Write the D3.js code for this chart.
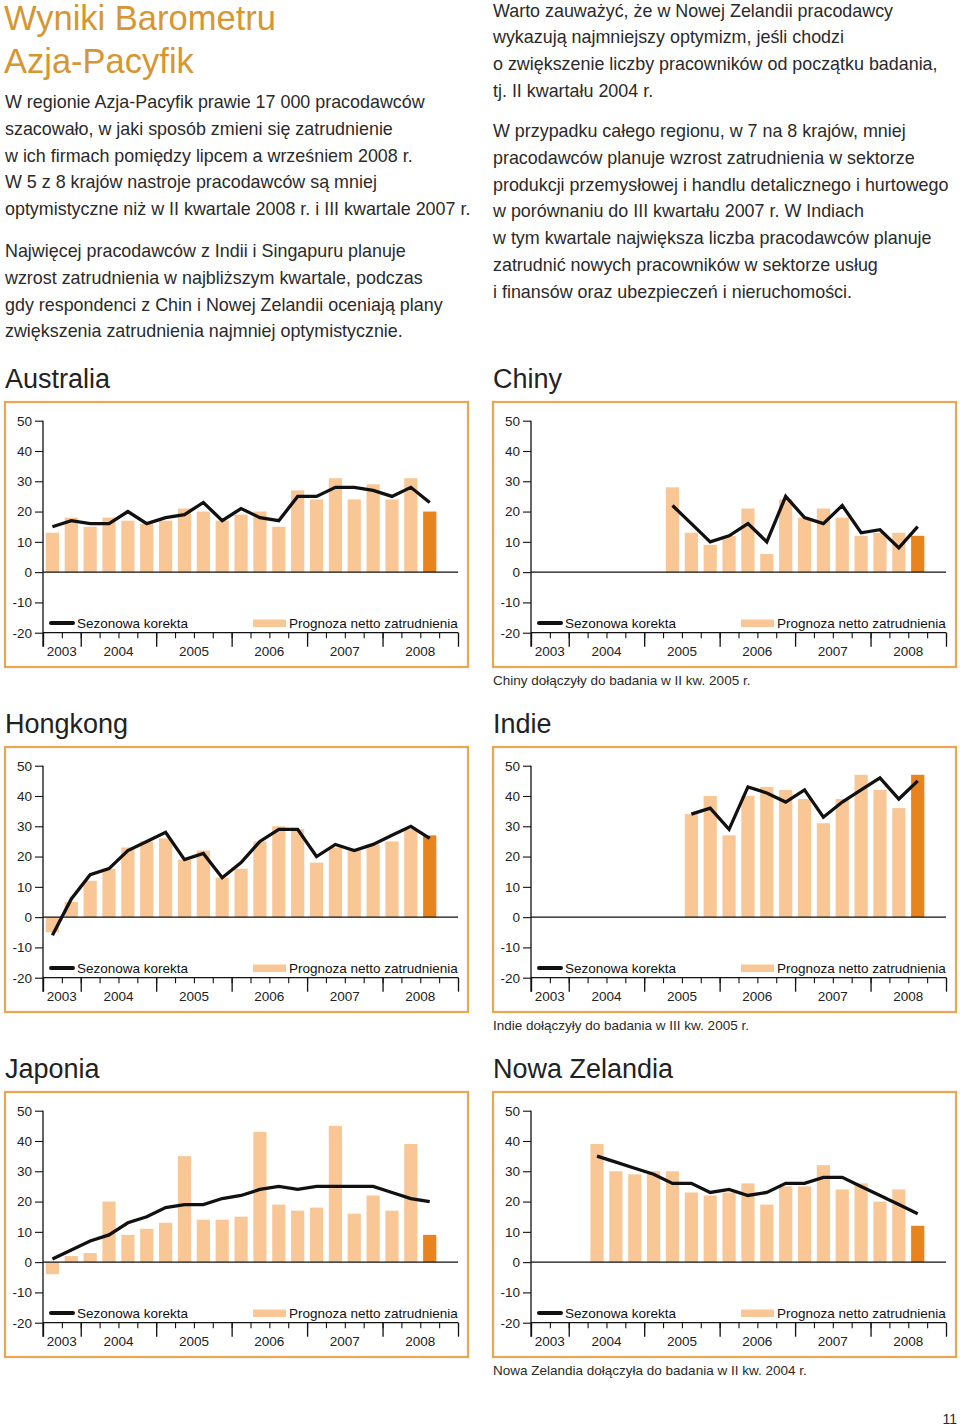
<!DOCTYPE html>
<html><head><meta charset="utf-8">
<script src="https://cdn.jsdelivr.net/npm/d3@7"></script>
<style>
body{margin:0;background:#fff;}
svg{display:block;}
</style></head><body>
<svg id="page" width="960" height="1428"></svg>
<script>
// ---------- DATA ----------
const quarters = ["2003 Q3","2003 Q4",
  "2004 Q1","2004 Q2","2004 Q3","2004 Q4",
  "2005 Q1","2005 Q2","2005 Q3","2005 Q4",
  "2006 Q1","2006 Q2","2006 Q3","2006 Q4",
  "2007 Q1","2007 Q2","2007 Q3","2007 Q4",
  "2008 Q1","2008 Q2","2008 Q3","2008 Q4"];
const years = ["2003","2004","2005","2006","2007","2008"];
const yearQuarterCounts = [2,4,4,4,4,4];
const yTicks = [50,40,30,20,10,0,-10,-20];
const legendLabels = ["Sezonowa korekta","Prognoza netto zatrudnienia"];

const australiaStart = "2003 Q3";
const australiaBars = [13,18,15,18,17,16,17,21,20,17,19,20,15,27,24,31,24,29,24,31,20];
const australiaLine = [15,17,16,16,20,16,18,19,23,17,21,18,17,25,25,28,28,27,25,28,23];

const chinyStart = "2005 Q2";
const chinyBars = [28,13,9,12,21,6,24,18,21,18,12,13,13,12];
const chinyLine = [22,16,10,12,16,10,25,18,16,22,13,14,8,15];

const hongkongStart = "2003 Q3";
const hongkongBars = [-5,5,12,16,23,25,26,19,22,13,16,25,30,29,18,23,22,24,25,29,27];
const hongkongLine = [-6,6,14,16,22,25,28,19,21,13,18,25,29,29,20,24,22,24,27,30,26];

const indieStart = "2005 Q3";
const indieBars = [34,40,27,40,43,42,39,31,39,47,42,36,47];
const indieLine = [34,36,29,43,41,38,42,33,38,42,46,39,45];

const japoniaStart = "2003 Q3";
const japoniaBars = [-4,2,3,20,9,11,13,35,14,14,15,43,19,17,18,45,16,22,17,39,9];
const japoniaLine = [1,4,7,9,13,15,18,19,19,21,22,24,25,24,25,25,25,25,23,21,20];

const nzStart = "2004 Q2";
const nzBars = [39,30,29,30,30,23,22,23,26,19,25,25,32,24,26,20,24,12];
const nzLine = [35,33,31,29,26,26,23,24,22,23,26,26,28,28,25,22,19,16];

const headingLines = ["Wyniki Barometru","Azja-Pacyfik"];
const leftPara1 = ["W regionie Azja-Pacyfik prawie 17 000 pracodawców",
  "szacowało, w jaki sposób zmieni się zatrudnienie",
  "w ich firmach pomiędzy lipcem a wrześniem 2008 r.",
  "W 5 z 8 krajów nastroje pracodawców są mniej",
  "optymistyczne niż w II kwartale 2008 r. i III kwartale 2007 r."];
const leftPara2 = ["Najwięcej pracodawców z Indii i Singapuru planuje",
  "wzrost zatrudnienia w najbliższym kwartale, podczas",
  "gdy respondenci z Chin i Nowej Zelandii oceniają plany",
  "zwiększenia zatrudnienia najmniej optymistycznie."];
const rightPara1 = ["Warto zauważyć, że w Nowej Zelandii pracodawcy",
  "wykazują najmniejszy optymizm, jeśli chodzi",
  "o zwiększenie liczby pracowników od początku badania,",
  "tj. II kwartału 2004 r."];
const rightPara2 = ["W przypadku całego regionu, w 7 na 8 krajów, mniej",
  "pracodawców planuje wzrost zatrudnienia w sektorze",
  "produkcji przemysłowej i handlu detalicznego i hurtowego",
  "w porównaniu do III kwartału 2007 r. W Indiach",
  "w tym kwartale największa liczba pracodawców planuje",
  "zatrudnić nowych pracowników w sektorze usług",
  "i finansów oraz ubezpieczeń i nieruchomości."];

// ---------- STYLE ----------
const FONT = "'Liberation Sans', Arial, sans-serif";
const BAR = "#F9C795", BAR_LAST = "#E9831E", FRAME = "#ECA650", HEAD = "#D69632", TEXT = "#2a2a2a";

const svg = d3.select("#page");

// heading & text
const tg = svg.append("g").attr("font-family", FONT);
headingLines.forEach((t,i)=>{
  tg.append("text").attr("x",4).attr("y",29.5+i*43).attr("font-size",34.5).attr("fill",HEAD)
    .attr("font-weight",300).text(t);
});
function para(lines, x, y0){
  lines.forEach((t,i)=>tg.append("text").attr("x",x).attr("y",y0+i*26.7)
    .attr("font-size",17.9).attr("fill",TEXT).text(t));
}
para(leftPara1,5,108.3);
para(leftPara2,5,257.3);
para(rightPara1,493,16.7);
para(rightPara2,493,137.3);

tg.append("text").attr("x",957).attr("y",1424).attr("text-anchor","end")
  .attr("font-size",14).attr("fill",TEXT).text("11");

// ---------- CHART ----------
function chart(opts){
  const {fx, fy, title, start, bars, line, caption} = opts;
  const g = svg.append("g").attr("font-family", FONT);
  g.append("text").attr("x",fx).attr("y",fy-14).attr("font-size",27).attr("fill","#222").text(title);
  g.append("rect").attr("x",fx).attr("y",fy).attr("width",463).attr("height",265)
    .attr("fill","none").attr("stroke",FRAME).attr("stroke-width",2.2);
  if(caption) g.append("text").attr("x",fx).attr("y",fy+283).attr("font-size",13.5).attr("fill",TEXT).text(caption);

  const x0 = fx+38, x1 = fx+453;
  const x = d3.scaleBand().domain(quarters).range([x0,x1]).paddingInner(0.3).paddingOuter(0.15);
  const q = d3.scaleLinear().domain([0,quarters.length]).range([x0,x1]);
  const y = d3.scaleLinear().domain([-20,50]).range([fy+230.7, fy+18.7]);

  const s = quarters.indexOf(start);
  const barData = bars.map((v,i)=>({q:quarters[s+i], v, last:i===bars.length-1}));
  const lineData = line.map((v,i)=>({q:quarters[s+i], v}));

  g.selectAll("rect.bar").data(barData).join("rect").attr("class","bar")
    .attr("x",d=>x(d.q)).attr("width",x.bandwidth())
    .attr("y",d=>y(Math.max(0,d.v))).attr("height",d=>Math.abs(y(d.v)-y(0)))
    .attr("fill",d=>d.last?BAR_LAST:BAR);

  // zero line
  g.append("line").attr("x1",x0).attr("x2",x1).attr("y1",y(0)).attr("y2",y(0))
    .attr("stroke","#111").attr("stroke-width",1.1);

  g.append("path").datum(lineData)
    .attr("d", d3.line().x(d=>x(d.q)+x.bandwidth()/2).y(d=>y(d.v)))
    .attr("fill","none").attr("stroke","#111").attr("stroke-width",3.3).attr("stroke-linejoin","miter");

  // y axis
  const ya = g.append("g").attr("transform",`translate(${x0},0)`)
    .call(d3.axisLeft(y).tickValues(yTicks).tickSize(8).tickPadding(3).tickFormat(d=>String(d)));
  ya.select(".domain").remove();
  ya.selectAll("line").attr("stroke","#111").attr("stroke-width",1.1);
  ya.selectAll("text").attr("font-family",FONT).attr("font-size",13.5).attr("fill","#222");
  g.append("line").attr("x1",x0).attr("x2",x0).attr("y1",y(50)).attr("y2",y(-20)+14)
    .attr("stroke","#111").attr("stroke-width",1.3);

  // x axis
  const base = y(-20);
  const xa = g.append("g").attr("transform",`translate(0,${base})`)
    .call(d3.axisBottom(q).tickValues(d3.range(quarters.length+1)).tickSize(5.5).tickFormat(""));
  xa.select(".domain").attr("d",`M${x0},0H${x1}`).attr("stroke","#111").attr("stroke-width",1.3);
  xa.selectAll("line").attr("stroke","#111").attr("stroke-width",1.1);
  const cum = [0]; yearQuarterCounts.forEach(c=>cum.push(cum[cum.length-1]+c));
  const xa2 = g.append("g").attr("transform",`translate(0,${base})`)
    .call(d3.axisBottom(q).tickValues(cum).tickSize(14).tickFormat(""));
  xa2.select(".domain").remove();
  xa2.selectAll("line").attr("stroke","#111").attr("stroke-width",1.3);
  years.forEach((yr,i)=>{
    g.append("text").attr("x",(q(cum[i])+q(cum[i+1]))/2).attr("y",base+23)
      .attr("text-anchor","middle").attr("font-size",13.5).attr("fill","#222").text(yr);
  });

  // legend
  const ly = fy+221;
  g.append("line").attr("x1",fx+46).attr("x2",fx+68).attr("y1",ly).attr("y2",ly)
    .attr("stroke","#111").attr("stroke-width",4).attr("stroke-linecap","round");
  g.append("text").attr("x",fx+72).attr("y",ly+4.5).attr("font-size",13.5).attr("fill","#111").text(legendLabels[0]);
  g.append("rect").attr("x",fx+248).attr("y",ly-3.5).attr("width",33).attr("height",7.5).attr("fill",BAR);
  g.append("text").attr("x",fx+284).attr("y",ly+4.5).attr("font-size",13.5).attr("fill","#111").text(legendLabels[1]);
}

chart({fx:5, fy:402, title:"Australia", start:australiaStart, bars:australiaBars, line:australiaLine});
chart({fx:493, fy:402, title:"Chiny", start:chinyStart, bars:chinyBars, line:chinyLine,
  caption:"Chiny dołączyły do badania w II kw. 2005 r."});
chart({fx:5, fy:747, title:"Hongkong", start:hongkongStart, bars:hongkongBars, line:hongkongLine});
chart({fx:493, fy:747, title:"Indie", start:indieStart, bars:indieBars, line:indieLine,
  caption:"Indie dołączyły do badania w III kw. 2005 r."});
chart({fx:5, fy:1092, title:"Japonia", start:japoniaStart, bars:japoniaBars, line:japoniaLine});
chart({fx:493, fy:1092, title:"Nowa Zelandia", start:nzStart, bars:nzBars, line:nzLine,
  caption:"Nowa Zelandia dołączyła do badania w II kw. 2004 r."});
</script>
</body></html>
